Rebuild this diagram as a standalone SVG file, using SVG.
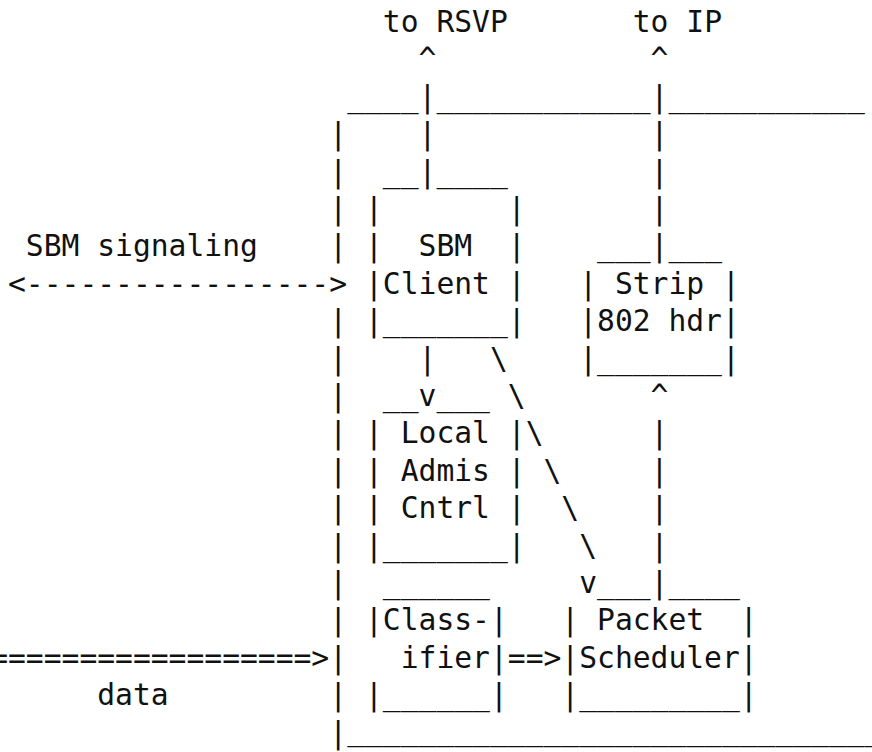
<svg xmlns="http://www.w3.org/2000/svg" width="872" height="752" viewBox="0 0 872 752" xml:space="preserve">
  <style>
    text { font-family: "DejaVu Sans Mono", "Liberation Mono", monospace; font-size: 29.65px; fill: #111; white-space: pre; }
  </style>
  <rect width="872" height="752" fill="#fff"/>

  <!-- character grid: column c at x = 8 + 17.85*c, row n baseline at y = 32 + 37.4*(n-1) -->

  <g id="labels">
    <text x="382.85" y="32">to RSVP</text>
    <text x="632.75" y="32">to IP</text>
    <text x="25.85" y="256.4">SBM signaling</text>
    <text x="97.25" y="705.2">data</text>
  </g>

  <g id="host-frame">
    <text x="347.15" y="106.8">____</text>
    <text x="436.4" y="106.8">____________</text>
    <text x="668.45" y="106.8">___________</text>
    <text x="329.3" y="144.2">|</text>
    <text x="329.3" y="181.6">|</text>
    <text x="329.3" y="219">|</text>
    <text x="329.3" y="256.4">|</text>
    <text x="329.3" y="331.2">|</text>
    <text x="329.3" y="368.6">|</text>
    <text x="329.3" y="406">|</text>
    <text x="329.3" y="443.4">|</text>
    <text x="329.3" y="480.8">|</text>
    <text x="329.3" y="518.2">|</text>
    <text x="329.3" y="555.6">|</text>
    <text x="329.3" y="593">|</text>
    <text x="329.3" y="630.4">|</text>
    <text x="329.3" y="667.8">|</text>
    <text x="329.3" y="705.2">|</text>
    <text x="329.3" y="742.6">|</text>
    <text x="347.15" y="739.6">______________________________</text>
  </g>

  <g id="sbm-client">
    <text x="382.85" y="181.6">__</text>
    <text x="436.4" y="181.6">____</text>
    <text x="365" y="219">|       |</text>
    <text x="365" y="256.4">|  SBM  |</text>
    <text x="365" y="293.8">|Client |</text>
    <text x="365" y="331.2">|_______|</text>
  </g>

  <g id="local-admission-control">
    <text x="382.85" y="406">__</text>
    <text x="436.4" y="406">___</text>
    <text x="365" y="443.4">| Local |</text>
    <text x="365" y="480.8">| Admis |</text>
    <text x="365" y="518.2">| Cntrl |</text>
    <text x="365" y="555.6">|_______|</text>
  </g>

  <g id="strip-802-header">
    <text x="597.05" y="256.4">___</text>
    <text x="668.45" y="256.4">___</text>
    <text x="579.2" y="293.8">| Strip |</text>
    <text x="579.2" y="331.2">|802 hdr|</text>
    <text x="579.2" y="368.6">|_______|</text>
  </g>

  <g id="classifier">
    <text x="382.85" y="593">______</text>
    <text x="365" y="630.4">|Class-|</text>
    <text x="400.7" y="667.8">ifier|</text>
    <text x="365" y="705.2">|______|</text>
  </g>

  <g id="packet-scheduler">
    <text x="597.05" y="593">___</text>
    <text x="668.45" y="593">____</text>
    <text x="561.35" y="630.4">| Packet  |</text>
    <text x="561.35" y="667.8">|Scheduler|</text>
    <text x="561.35" y="705.2">|_________|</text>
  </g>

  <g id="connectors">
    <!-- SBM client up to RSVP -->
    <text x="418.55" y="69.4">^</text>
    <text x="418.55" y="106.8">|</text>
    <text x="418.55" y="144.2">|</text>
    <text x="418.55" y="181.6">|</text>
    <!-- strip header up to IP -->
    <text x="650.6" y="69.4">^</text>
    <text x="650.6" y="106.8">|</text>
    <text x="650.6" y="144.2">|</text>
    <text x="650.6" y="181.6">|</text>
    <text x="650.6" y="219">|</text>
    <text x="650.6" y="256.4">|</text>
    <!-- SBM signaling, both ways -->
    <text x="8" y="293.8">&lt;-----------------&gt;</text>
    <!-- SBM client down to admission control -->
    <text x="418.55" y="368.6">|</text>
    <text x="418.55" y="406">v</text>
    <!-- SBM client down to packet scheduler -->
    <text x="489.95" y="368.6">\</text>
    <text x="507.8" y="406">\</text>
    <text x="525.65" y="443.4">\</text>
    <text x="543.5" y="480.8">\</text>
    <text x="561.35" y="518.2">\</text>
    <text x="579.2" y="555.6">\</text>
    <text x="579.2" y="593">v</text>
    <!-- packet scheduler up to strip header -->
    <text x="650.6" y="406">^</text>
    <text x="650.6" y="443.4">|</text>
    <text x="650.6" y="480.8">|</text>
    <text x="650.6" y="518.2">|</text>
    <text x="650.6" y="555.6">|</text>
    <text x="650.6" y="593">|</text>
    <!-- data path -->
    <text x="-9.85" y="667.8">==================&gt;</text>
    <text x="507.8" y="667.8">==&gt;</text>
  </g>
</svg>
